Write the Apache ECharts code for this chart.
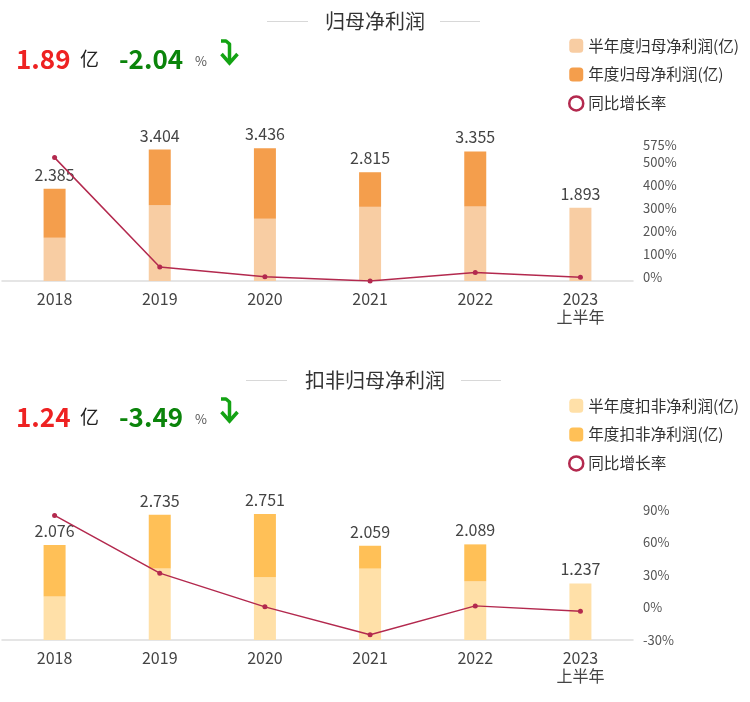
<!DOCTYPE html>
<html>
<head>
<meta charset="utf-8">
<script src="https://cdn.jsdelivr.net/npm/echarts@6/dist/echarts.min.js"></script>
<style>
html,body{margin:0;padding:0;background:#fff;}
#c{width:750px;height:702px;}
</style>
</head>
<body>
<div id="c"></div>
<script>
// ---- data ----
const years = ['2018', '2019', '2020', '2021', '2022', '2023\n上半年'];
// 归母净利润 (亿)
const annual1 = [2.385, 3.404, 3.436, 2.815, 3.355, null];
const half1 = [1.12, 1.96, 1.61, 1.92, 1.93, 1.893];
const growth1 = [520, 42.7, 0.9, -18.1, 19.2, -2.04];
const rightTicks1 = [0, 100, 200, 300, 400, 500, 575];
// 扣非归母净利润 (亿)
const annual2 = [2.076, 2.735, 2.751, 2.059, 2.089, null];
const half2 = [0.95, 1.56, 1.37, 1.56, 1.28, 1.237];
const growth2 = [85, 31.7, 0.6, -25.2, 1.5, -3.49];
const rightTicks2 = [-30, 0, 30, 60, 90];
// header figures
const head1 = { value: '1.89', change: '-2.04' };
const head2 = { value: '1.24', change: '-3.49' };

const FONT = '"Noto Sans CJK SC", "Microsoft YaHei", sans-serif';
const LINE_C = '#B3294E';
const colors1 = ['#F8CDA3', '#F49E4C'];
const colors2 = ['#FFE0A8', '#FFC057'];

function remainder(annual, half) {
  return annual.map((a, i) => a == null ? null : +(a - half[i]).toFixed(3));
}

function halfData(annual, half) {
  return half.map((h, i) => {
    if (annual[i] == null) {
      return { value: h, label: { show: true, position: 'top', distance: 6, fontSize: 16, color: '#444', fontFamily: FONT, formatter: () => h.toFixed(3) } };
    }
    return h;
  });
}

function header(y, h) {
  return [
    { type: 'text', left: 16, top: y - 15, style: { text: h.value, font: 'bold 26px ' + FONT, fill: '#EE2222' } },
    { type: 'text', left: 80, top: y - 12, style: { text: '亿', font: '19px ' + FONT, fill: '#222' } },
    { type: 'text', left: 119, top: y - 15, style: { text: h.change, font: 'bold 26px ' + FONT, fill: '#0B840B' } },
    { type: 'text', left: 195, top: y - 6, style: { text: '%', font: '13px ' + FONT, fill: '#555' } },
    { type: 'polyline', shape: { points: [[221, y - 20], [226, y - 20], [229.5, y - 17], [229.5, y + 2]] },
      style: { stroke: '#13A313', lineWidth: 3.5, fill: null, lineJoin: 'round' } },
    { type: 'polyline', shape: { points: [[221.5, y - 7], [229.5, y + 2], [237.5, y - 7]] },
      style: { stroke: '#13A313', lineWidth: 3.5, fill: null } }
  ];
}

function titleLines(y, x1, x2, x3, x4) {
  return [
    { type: 'line', shape: { x1: x1, y1: y, x2: x2, y2: y }, style: { stroke: '#D8D8D8', lineWidth: 1 } },
    { type: 'line', shape: { x1: x3, y1: y, x2: x4, y2: y }, style: { stroke: '#D8D8D8', lineWidth: 1 } }
  ];
}

const chart = echarts.init(document.getElementById('c'), null, { renderer: 'canvas' });

const xAxisBase = {
  type: 'category',
  data: years,
  axisTick: { show: false },
  axisLine: { lineStyle: { color: '#DDDDDD', width: 1.5 } },
  axisLabel: { fontSize: 16, color: '#444', fontFamily: FONT, margin: 9, lineHeight: 18 }
};

const stackLabel = (annual) => ({
  show: true, position: 'top', distance: 6, fontSize: 16, color: '#444', fontFamily: FONT,
  formatter: (p) => annual[p.dataIndex] == null ? '' : annual[p.dataIndex].toFixed(3)
});

const legendText = { fontSize: 15.6, color: '#333', fontFamily: FONT };

const option = {
  animation: false,
  textStyle: { fontFamily: FONT },
  title: [
    { text: '归母净利润', left: 'center', top: 6, textStyle: { fontSize: 20, fontWeight: 'normal', color: '#333', fontFamily: FONT } },
    { text: '扣非归母净利润', left: 'center', top: 365, textStyle: { fontSize: 20, fontWeight: 'normal', color: '#333', fontFamily: FONT } }
  ],
  legend: [
    {
      orient: 'vertical', left: 568, top: 38, padding: 0, itemWidth: 14, itemHeight: 14, itemGap: 13,
      textStyle: legendText,
      data: [
        { name: '半年度归母净利润(亿)' },
        { name: '年度归母净利润(亿)' },
        { name: '同比增长率', icon: 'circle', itemStyle: { color: '#fff', borderColor: LINE_C, borderWidth: 2.5 } }
      ]
    },
    {
      orient: 'vertical', left: 568, top: 398, padding: 0, itemWidth: 14, itemHeight: 14, itemGap: 13,
      textStyle: legendText,
      data: [
        { name: '半年度扣非净利润(亿)' },
        { name: '年度扣非净利润(亿)' },
        { name: '同比增长率', icon: 'circle', itemStyle: { color: '#fff', borderColor: LINE_C, borderWidth: 2.5 } }
      ]
    }
  ],
  grid: [
    { left: 2, right: 117, top: 145, height: 136 },
    { left: 2, right: 117, top: 510, height: 130 }
  ],
  xAxis: [
    Object.assign({ gridIndex: 0 }, xAxisBase),
    Object.assign({ gridIndex: 1 }, xAxisBase)
  ],
  yAxis: [
    { gridIndex: 0, type: 'value', min: 0, max: 3.52, show: false },
    { gridIndex: 0, type: 'value', min: -18.1, max: 575, position: 'right',
      splitLine: { show: false }, axisLine: { show: false }, axisTick: { show: false },
      axisLabel: { customValues: rightTicks1, formatter: '{value}%', fontSize: 13, color: '#555', margin: 10, fontFamily: FONT } },
    { gridIndex: 1, type: 'value', min: 0, max: 2.84, show: false },
    { gridIndex: 1, type: 'value', min: -30, max: 90, interval: 30, position: 'right',
      splitLine: { show: false }, axisLine: { show: false }, axisTick: { show: false },
      axisLabel: { customValues: rightTicks2, formatter: '{value}%', fontSize: 13, color: '#555', margin: 10, fontFamily: FONT } }
  ],
  series: [
    { name: '半年度归母净利润(亿)', type: 'bar', stack: 's1', xAxisIndex: 0, yAxisIndex: 0, barWidth: 22,
      itemStyle: { color: colors1[0] }, data: halfData(annual1, half1) },
    { name: '年度归母净利润(亿)', type: 'bar', stack: 's1', xAxisIndex: 0, yAxisIndex: 0, barWidth: 22,
      itemStyle: { color: colors1[1] }, label: stackLabel(annual1), data: remainder(annual1, half1) },
    { name: '同比增长率', type: 'line', xAxisIndex: 0, yAxisIndex: 1, symbol: 'circle', symbolSize: 5,
      lineStyle: { color: LINE_C, width: 1.5 }, itemStyle: { color: LINE_C }, data: growth1, z: 5 },

    { name: '半年度扣非净利润(亿)', type: 'bar', stack: 's2', xAxisIndex: 1, yAxisIndex: 2, barWidth: 22,
      itemStyle: { color: colors2[0] }, data: halfData(annual2, half2) },
    { name: '年度扣非净利润(亿)', type: 'bar', stack: 's2', xAxisIndex: 1, yAxisIndex: 2, barWidth: 22,
      itemStyle: { color: colors2[1] }, label: stackLabel(annual2), data: remainder(annual2, half2) },
    { name: '同比增长率', type: 'line', xAxisIndex: 1, yAxisIndex: 3, symbol: 'circle', symbolSize: 5,
      lineStyle: { color: LINE_C, width: 1.5 }, itemStyle: { color: LINE_C }, data: growth2, z: 5 }
  ],
  graphic: [].concat(
    titleLines(21.5, 267, 308, 440, 480),
    titleLines(380.5, 246, 287, 461, 501),
    header(61, head1),
    header(419, head2)
  )
};
chart.setOption(option);
</script>
</body>
</html>
